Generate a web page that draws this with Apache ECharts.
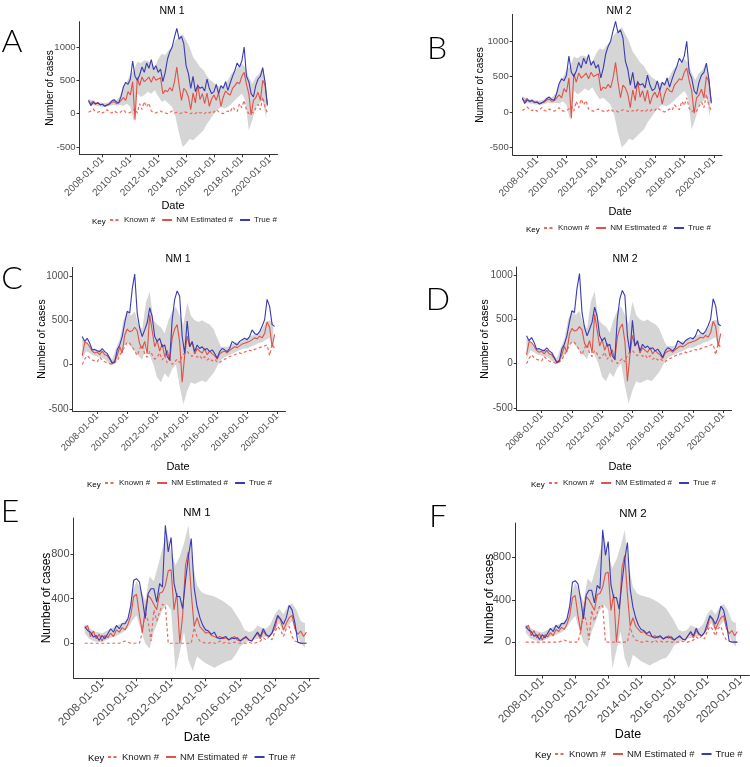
<!DOCTYPE html>
<html>
<head>
<meta charset="utf-8">
<script src="https://cdn.jsdelivr.net/npm/echarts@6/dist/echarts.min.js"></script>
<style>html,body{margin:0;padding:0;background:#fff}#c{width:750px;height:767px}</style>
</head>
<body>
<div id="c"></div>
<script>
// ---------- DATA ----------
// Lines: bimonthly points starting 2007-01 ; ribbon: quarterly points starting 2007-01
const lineStartYear = 2007, lineStepYears = 1 / 6, bandStepYears = 1 / 4;
const seriesNames = ['Known #', 'NM Estimated #', 'True #'];
const xTickLabels = ['2008-01-01','2010-01-01','2012-01-01','2014-01-01','2016-01-01','2018-01-01','2020-01-01'];
const yTicksAB = [-500, 0, 500, 1000];
const yTicksCD = [-500, 0, 500, 1000];
const yTicksEF = [0, 400, 800];

// Panels A / B
const trueAB = [200,120,170,150,160,135,140,110,130,150,190,210,175,165,260,400,470,440,520,790,560,500,580,700,620,760,680,810,660,720,620,670,480,620,820,930,1000,1150,1280,1120,1160,1050,720,600,380,560,330,420,380,400,340,520,380,300,330,440,300,420,380,480,350,460,560,650,760,700,790,1000,560,480,300,250,420,520,560,690,470,120];
const estAB = [180,150,190,140,170,130,140,120,130,140,170,180,150,160,200,240,200,330,280,480,-90,540,420,550,480,510,550,470,560,500,520,540,300,350,330,390,340,480,700,420,200,380,340,250,60,310,160,440,210,300,150,310,110,220,280,200,310,110,250,340,300,280,380,420,470,450,560,620,440,300,-20,200,240,320,200,500,430,140];
const knownAB = [20,40,70,30,20,40,10,30,60,20,10,40,20,10,30,60,20,10,20,40,80,10,150,60,180,100,160,40,20,10,30,40,20,10,0,20,40,10,20,0,10,30,20,10,0,20,0,30,10,20,0,30,10,40,20,60,30,10,0,20,40,20,100,60,30,150,90,200,50,0,30,10,80,140,60,250,100,10];
const bandLoAB = [160,130,120,110,100,100,110,130,120,130,120,150,100,-120,300,250,280,330,300,350,260,180,200,150,100,-50,-300,-500,-450,-380,-400,-350,-300,-250,-150,-80,0,60,100,80,100,150,200,250,300,200,-250,-100,100,150,200,-80];
const bandHiAB = [220,200,180,170,160,160,180,220,200,260,420,480,600,650,780,760,800,790,760,700,820,900,880,950,1000,1100,1150,1200,1100,1000,850,780,700,650,560,500,460,420,400,430,500,600,650,700,750,700,550,450,550,600,700,420];

// Panels C / D
const trueCD = [315,260,295,240,165,170,155,145,180,145,125,70,10,30,165,220,315,470,600,580,850,1020,580,410,315,390,470,640,540,315,260,295,200,220,90,50,505,735,830,770,315,125,490,200,260,145,220,180,200,165,180,145,165,125,70,145,180,165,145,180,260,240,220,260,280,295,280,315,390,350,335,370,430,505,735,655,450,430];
const estCD = [100,250,240,200,150,130,140,110,150,110,100,60,20,40,100,200,130,330,400,370,380,420,380,230,180,260,120,560,380,200,270,150,230,90,160,40,300,400,450,250,-200,100,320,200,250,120,180,150,130,180,110,150,120,100,60,120,140,150,130,160,180,200,190,210,230,240,250,260,280,300,290,320,300,350,480,420,200,340];
const knownCD = [0,60,100,70,50,40,30,80,50,30,20,10,0,20,40,100,150,200,250,240,200,150,100,180,220,120,80,150,110,60,80,130,50,100,20,60,0,30,60,20,100,130,150,110,90,140,80,100,60,90,50,70,40,60,30,20,50,60,70,90,100,110,120,130,120,140,150,160,150,170,180,190,200,210,220,100,230,180];
const bandLoCD = [50,150,130,100,90,80,60,20,-10,30,100,200,250,200,150,100,50,200,100,0,-150,-200,-100,-150,-50,0,-250,-450,-300,-200,-220,-200,-180,-200,-150,-100,-20,50,80,100,120,140,160,180,180,200,220,240,250,280,300,150];
const bandHiCD = [300,260,200,160,160,170,140,100,60,180,280,500,600,550,600,450,400,700,820,500,450,420,350,500,600,650,550,450,700,550,500,480,500,470,450,400,300,200,200,200,230,250,260,280,300,320,340,360,400,480,500,470];

// Panels E / F
const trueEF = [150,115,100,55,70,25,70,40,85,130,100,160,130,175,175,220,340,565,580,550,400,220,445,490,490,370,535,505,1060,820,950,540,420,420,310,560,780,940,500,330,230,160,120,110,80,100,50,40,50,60,30,50,40,50,20,40,60,30,20,60,100,60,130,80,60,90,170,250,220,170,230,340,300,180,10,0,0,0];
const estEF = [130,160,60,110,40,80,20,70,50,90,60,120,100,140,120,170,250,420,440,250,100,300,430,400,350,300,450,460,520,650,660,300,450,0,250,700,820,450,150,230,150,120,90,100,70,60,50,60,40,50,30,40,60,30,20,40,50,30,20,60,90,40,110,70,60,90,130,240,210,120,180,230,250,130,80,110,60,100];
const knownEF = [0,0,0,0,0,0,0,0,0,0,0,0,0,10,20,10,0,0,0,0,100,280,200,20,300,200,280,350,340,0,0,0,0,0,0,0,0,0,140,60,20,10,0,0,10,0,0,20,0,10,0,0,10,0,0,0,0,10,0,0,10,20,50,30,60,30,100,150,120,60,130,150,60,20,10,0,0,0];
const bandLoEF = [90,40,20,10,10,30,50,60,80,100,140,200,250,120,0,-50,100,200,300,350,300,-250,-80,100,-150,-250,-120,-150,-180,-200,-220,-200,-180,-160,-150,-100,-30,0,20,30,40,50,60,80,120,180,100,150,200,100,0,-40];
const bandHiEF = [170,140,110,100,90,110,130,150,170,190,220,450,560,480,380,600,560,700,850,1000,820,700,780,900,1060,720,520,460,440,430,420,400,380,350,320,260,200,120,100,110,160,140,130,170,260,310,260,330,360,300,200,180];

// ---------- LAYOUT ----------
const FF = '"Liberation Sans", Arial, Helvetica, sans-serif';
const dsAB = {tr: trueAB, est: estAB, kn: knownAB, lo: bandLoAB, hi: bandHiAB};
const dsCD = {tr: trueCD, est: estCD, kn: knownCD, lo: bandLoCD, hi: bandHiCD};
const dsEF = {tr: trueEF, est: estEF, kn: knownEF, lo: bandLoEF, hi: bandHiEF};

const fsSmall = {yt:9.5, xt:10, title:10.5, name:10, leg:8, date:11, keyW:17};
const fsMid = {yt:10, xt:9.5, title:10.5, name:10.5, leg:8, date:11, keyW:17};
const fsBig = {yt:11, xt:11.5, title:11.5, name:12, leg:9.5, date:12.5, keyW:19};
const panels = [
  {letter:'A', title:'NM 1', ds:dsAB, grid:{left:79.5, top:21.7, width:198, height:132.6}, y:[-610,1380], yt:yTicksAB,
   titleXY:[172,11], letterXY:[12,42], ynameXY:[50,88], dateXY:[173,206], keyXY:[92,222], fs:fsSmall},
  {letter:'B', title:'NM 2', ds:dsAB, grid:{left:512.7, top:14.4, width:209.3, height:140.6}, y:[-610,1380], yt:yTicksAB,
   titleXY:[619,11], letterXY:[437,49], ynameXY:[480,85], dateXY:[620,212], keyXY:[526,230], fs:fsSmall},
  {letter:'C', title:'NM 1', ds:dsCD, grid:{left:72.5, top:267.4, width:213, height:143.6}, y:[-525,1095], yt:yTicksCD,
   titleXY:[178,259], letterXY:[12,279], ynameXY:[41.7,339], dateXY:[178,467], keyXY:[87,485], fs:fsMid},
  {letter:'D', title:'NM 2', ds:dsCD, grid:{left:516.7, top:267, width:215, height:143}, y:[-525,1095], yt:yTicksCD,
   titleXY:[625,259], letterXY:[438,300], ynameXY:[485,339], dateXY:[620,467], keyXY:[531,485], fs:fsMid},
  {letter:'E', title:'NM 1', ds:dsEF, grid:{left:73.5, top:518, width:245.5, height:160.3}, y:[-315,1125], yt:yTicksEF,
   titleXY:[197,513], letterXY:[10,512], ynameXY:[46.7,598], dateXY:[197,738], keyXY:[88,758], fs:fsBig},
  {letter:'F', title:'NM 2', ds:dsEF, grid:{left:515, top:523, width:234.4, height:152.5}, y:[-315,1125], yt:yTicksEF,
   titleXY:[633,514], letterXY:[438,517], ynameXY:[490,599], dateXY:[628,735], keyXY:[535,755], fs:fsBig}
];

const COL_BLUE = '#3a3ab2', COL_RED = '#df5249', COL_KNOWN = '#f2655a', COL_BAND = '#d5d5d5';
const xTickYears = xTickLabels.map(s => +s.slice(0, 4));
const lineX = i => lineStartYear + i * lineStepYears;
const bandX = i => lineStartYear + i * bandStepYears;

function txt(x, y, s, size, o) {
  o = o || {};
  return {type:'text', x:x, y:y, rotation:o.rot || 0, silent:true, z:50,
    style:{text:s, fontSize:size, fontFamily:o.ff || FF, fontWeight:o.fw || 'normal', fill:o.fill || '#000',
      align:o.align || 'center', verticalAlign:'middle'}};
}

function ribbonRender(params, api) {
  if (params.dataIndexInside !== 0) return null;
  const n = params.dataInsideLength;
  const top = [], bot = [];
  for (let i = 0; i < n; i++) {
    const x = api.value(0, i);
    top.push(api.coord([x, api.value(2, i)]));
    bot.push(api.coord([x, api.value(1, i)]));
  }
  return {type:'polygon', shape:{points:top.concat(bot.reverse())}, style:{fill:COL_BAND}, silent:true};
}

const grids = [], xAxes = [], yAxes = [], series = [], legends = [], graphics = [];
panels.forEach((p, k) => {
  grids.push(Object.assign({containLabel:false}, p.grid));
  xAxes.push({type:'value', gridIndex:k, min:2006.35, max:2020.56,
    axisLine:{show:true, onZero:false, lineStyle:{color:'#333', width:1}},
    axisTick:{show:true, length:3, customValues:xTickYears, lineStyle:{color:'#333'}},
    axisLabel:{customValues:xTickYears, rotate:45, margin:4, fontSize:p.fs.xt, fontFamily:FF, color:'#4d4d4d',
      formatter:v => xTickLabels[xTickYears.indexOf(Math.round(v))] || ''},
    splitLine:{show:false}});
  yAxes.push({type:'value', gridIndex:k, min:p.y[0], max:p.y[1],
    axisLine:{show:true, onZero:false, lineStyle:{color:'#333', width:1}},
    axisTick:{show:true, length:3, customValues:p.yt, lineStyle:{color:'#333'}},
    axisLabel:{customValues:p.yt, margin:4, fontSize:p.fs.yt, fontFamily:FF, color:'#4d4d4d', formatter:v => String(v)},
    splitLine:{show:false}});
  const d = p.ds;
  series.push({type:'custom', name:'ribbon', xAxisIndex:k, yAxisIndex:k, coordinateSystem:'cartesian2d', clip:true,
    data:d.hi.map((v, i) => [bandX(i), d.lo[i], v]), encode:{x:0, y:[1, 2]}, renderItem:ribbonRender, silent:true, z:1});
  series.push({type:'line', name:seriesNames[0], xAxisIndex:k, yAxisIndex:k, data:d.kn.map((v, i) => [lineX(i), v]),
    symbol:'none', lineStyle:{color:COL_KNOWN, width:1.2, type:[3, 2.5]}, itemStyle:{color:COL_KNOWN}, z:3});
  series.push({type:'line', name:seriesNames[1], xAxisIndex:k, yAxisIndex:k, data:d.est.map((v, i) => [lineX(i), v]),
    symbol:'none', lineStyle:{color:COL_RED, width:1.1}, itemStyle:{color:COL_RED}, z:4});
  series.push({type:'line', name:seriesNames[2], xAxisIndex:k, yAxisIndex:k, data:d.tr.map((v, i) => [lineX(i), v]),
    symbol:'none', lineStyle:{color:COL_BLUE, width:1.1}, itemStyle:{color:COL_BLUE}, z:5});
  legends.push({left:p.keyXY[0] + p.fs.keyW, top:p.keyXY[1] - 6, itemWidth:10, itemHeight:10, itemGap:6, padding:0,
    selectedMode:false, data:seriesNames, itemStyle:{opacity:0},
    textStyle:{fontSize:p.fs.leg, fontFamily:FF, color:'#222', padding:[0, 0, 0, -1]}});
  graphics.push(txt(p.titleXY[0], p.titleXY[1], p.title, p.fs.title));
  graphics.push(txt(p.letterXY[0], p.letterXY[1], p.letter, 32, {ff:'Lato, "Liberation Sans", sans-serif', fw:300}));
  graphics.push(txt(p.ynameXY[0], p.ynameXY[1], 'Number of cases', p.fs.name, {rot:Math.PI / 2}));
  graphics.push(txt(p.dateXY[0], p.dateXY[1], 'Date', p.fs.date));
  graphics.push(txt(p.keyXY[0], p.keyXY[1], 'Key', p.fs.leg, {align:'left'}));
});

const chart = echarts.init(document.getElementById('c'), null, {renderer:'canvas'});
chart.setOption({
  animation:false,
  backgroundColor:'#ffffff',
  grid:grids, xAxis:xAxes, yAxis:yAxes, series:series, legend:legends,
  graphic:{elements:graphics}
});
</script>
</body>
</html>
